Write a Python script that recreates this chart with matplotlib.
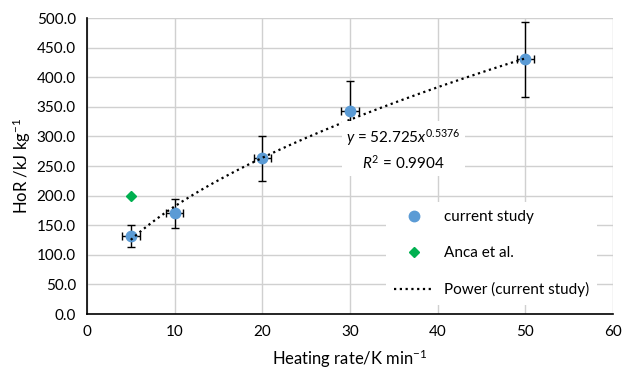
import numpy as np
import matplotlib.pyplot as plt

plt.rcParams['font.family'] = ['Lato', 'DejaVu Sans']
plt.rcParams['mathtext.fontset'] = 'custom'
plt.rcParams['mathtext.rm'] = 'Lato'
plt.rcParams['mathtext.it'] = 'Lato:italic'

# current study
rate = [5, 10, 20, 30, 50]
hor = [132, 170, 263, 343, 430]
hor_err = [19, 25, 38, 50, 64]
rate_err = [1, 1, 1, 1, 1]

# Anca et al.
anca_rate = [5]
anca_hor = [200]

# power fit y = a x^b
fit_a = 52.725
fit_b = 0.5376

fig = plt.figure(figsize=(6.24, 3.72), dpi=100)
ax = fig.add_axes([0.1394, 0.1559, 0.843, 0.7957])

ax.errorbar(rate, hor, yerr=hor_err, xerr=rate_err, fmt='none',
            ecolor='black', elinewidth=1, capsize=3, capthick=1, zorder=3)
ax.plot(rate, hor, linestyle='None', marker='o', markersize=7.5,
        color='#5B9BD5', label='current study', zorder=4)
ax.plot(anca_rate, anca_hor, linestyle='None', marker='D', markersize=5,
        color='#00B050', label='Anca et al.', zorder=4)

xf = np.linspace(min(rate), max(rate), 200)
ax.plot(xf, fit_a * xf ** fit_b, linestyle=(0, (1, 1.6)), color='black',
        linewidth=1.6, label='Power (current study)', zorder=5)

ax.text(36.1, 278, r"$y$ = 52.725$x^{0.5376}$" + "\n" + r"$R^2$ = 0.9904",
        ha='center', va='center', fontsize=11, linespacing=1.35,
        bbox=dict(facecolor='white', edgecolor='none', pad=3), zorder=6)

ax.set_xlim(0, 60)
ax.set_ylim(0, 500)
ax.set_xticks(range(0, 61, 10))
ax.set_yticks(range(0, 501, 50))
ax.set_yticklabels([f"{v:.1f}" for v in range(0, 501, 50)])
ax.tick_params(axis='x', length=0, labelsize=11, pad=8)
ax.tick_params(axis='y', length=0, labelsize=11, pad=8)
ax.grid(True, color='#d0d0d0', linewidth=1)
ax.set_axisbelow(True)
for s in ['top', 'right']:
    ax.spines[s].set_visible(False)
for s in ['left', 'bottom']:
    ax.spines[s].set_color('black')
    ax.spines[s].set_linewidth(1.2)

ax.set_xlabel('Heating rate/K min$^{-1}$', fontsize=12, labelpad=6)
ax.set_ylabel('HoR /kJ kg$^{-1}$', fontsize=12, labelpad=3)

leg = ax.legend(loc='lower right', frameon=True, fontsize=11,
                borderpad=0.5, labelspacing=1.45, handlelength=2.6,
                handletextpad=0.7, borderaxespad=0,
                bbox_to_anchor=(0.97, 0.03))
leg.get_frame().set_edgecolor('none')
leg.get_frame().set_facecolor('white')
leg.get_frame().set_alpha(1)
leg.get_frame().set_boxstyle('square', pad=0)

fig.savefig('out.png', dpi=100)
